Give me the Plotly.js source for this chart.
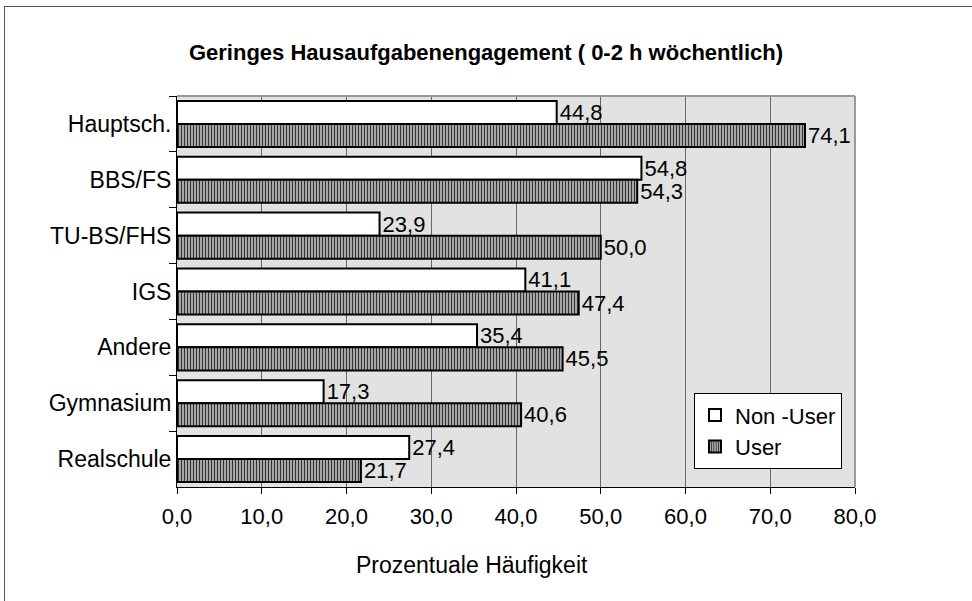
<!DOCTYPE html>
<html>
<head>
<meta charset="utf-8">
<script src="https://cdn.plot.ly/plotly-3.0.1.min.js"></script>
<style>
  html, body { margin: 0; padding: 0; background: #fff; overflow: hidden; }
  #wrap { position: relative; width: 972px; height: 601px; }
  #chart { width: 972px; height: 601px; }
  #frame { position: absolute; left: 4px; top: 6px; width: 1000px; height: 700px;
           border: 1px solid #555; pointer-events: none; box-sizing: border-box; }
</style>
</head>
<body>
<div id="wrap">
  <div id="chart"></div>
  <div id="frame"></div>
</div>
<script>
const categories = ["Hauptsch.", "BBS/FS", "TU-BS/FHS", "IGS", "Andere", "Gymnasium", "Realschule"];
const nonUser = [44.8, 54.8, 23.9, 41.1, 35.4, 17.3, 27.4];
const user = [74.1, 54.3, 50.0, 47.4, 45.5, 40.6, 21.7];
const seriesNames = ["Non -User", "User"];
const xTicks = [0, 10, 20, 30, 40, 50, 60, 70, 80];

const FONT = "Liberation Sans, Arial, sans-serif";
const fmt = v => v.toFixed(1).replace('.', ',');

const traces = [
  {
    type: 'bar', orientation: 'h', name: seriesNames[0],
    y: categories, x: nonUser,
    text: nonUser.map(fmt), textposition: 'outside', cliponaxis: false,
    constraintext: 'none',
    textfont: {family: FONT, size: 22, color: '#000'},
    marker: {color: '#ffffff', line: {color: '#000', width: 2}}
  },
  {
    type: 'bar', orientation: 'h', name: seriesNames[1],
    y: categories, x: user,
    text: user.map(fmt), textposition: 'outside', cliponaxis: false,
    constraintext: 'none',
    textfont: {family: FONT, size: 22, color: '#000'},
    marker: {color: '#b4b4b4', line: {color: '#000', width: 2},
             pattern: {shape: '|', fgcolor: '#333', bgcolor: '#b4b4b4', size: 3, solidity: 0.4}}
  }
];

const layout = {
  width: 972, height: 601,
  margin: {l: 177, r: 117, t: 96, b: 114, pad: 0},
  paper_bgcolor: '#ffffff',
  plot_bgcolor: '#e2e2e2',
  separators: ', ',
  font: {family: FONT, size: 23, color: '#000'},
  title: {
    text: '<b>Geringes Hausaufgabenengagement ( 0-2 h wöchentlich)</b>',
    font: {family: FONT, size: 22, color: '#000'},
    x: 0.5, xref: 'container', xanchor: 'center',
    y: 1 - 52/601, yref: 'container', yanchor: 'middle'
  },
  barmode: 'group', bargap: 0.175, bargroupgap: 0,
  xaxis: {
    range: [0, 80], tickvals: xTicks, tickformat: '.1f',
    showgrid: true, gridcolor: '#666', gridwidth: 1,
    showline: true, linecolor: '#000', linewidth: 1,
    ticks: 'outside', ticklen: 6, tickcolor: '#000',
    ticklabelstandoff: 4,
    tickfont: {family: FONT, size: 22, color: '#000'},
    zeroline: false, fixedrange: true
  },
  yaxis: {
    type: 'category', autorange: 'reversed',
    showgrid: false, showline: true, linecolor: '#000', linewidth: 1,
    ticks: 'outside', ticklen: 7, tickcolor: '#000', tickson: 'boundaries',
    tickfont: {family: FONT, size: 23, color: '#000'},
    zeroline: false, fixedrange: true
  },
  legend: {
    x: (842 - 177) / 678, y: 0.24, xanchor: 'right', yanchor: 'top',
    bgcolor: '#ffffff', bordercolor: '#000', borderwidth: 1,
    font: {family: FONT, size: 22, color: '#000'},
    itemwidth: 30,
    traceorder: 'normal', itemclick: false, itemdoubleclick: false
  },
  shapes: [
    {type: 'line', xref: 'paper', yref: 'paper', x0: 0, x1: 1, y0: 1, y1: 1,
     line: {color: '#999', width: 2}, layer: 'above'},
    {type: 'line', xref: 'paper', yref: 'paper', x0: 1, x1: 1, y0: 0, y1: 1,
     line: {color: '#999', width: 2}, layer: 'above'}
  ],
  annotations: [
    {text: 'Prozentuale Häufigkeit', xref: 'paper', yref: 'paper',
     x: (472 - 177) / 678, y: -(565 - 487) / 391, xanchor: 'center', yanchor: 'middle',
     showarrow: false, font: {family: FONT, size: 23, color: '#000'}}
  ]
};

Plotly.newPlot('chart', traces, layout, {staticPlot: true, displayModeBar: false});
</script>
</body>
</html>
